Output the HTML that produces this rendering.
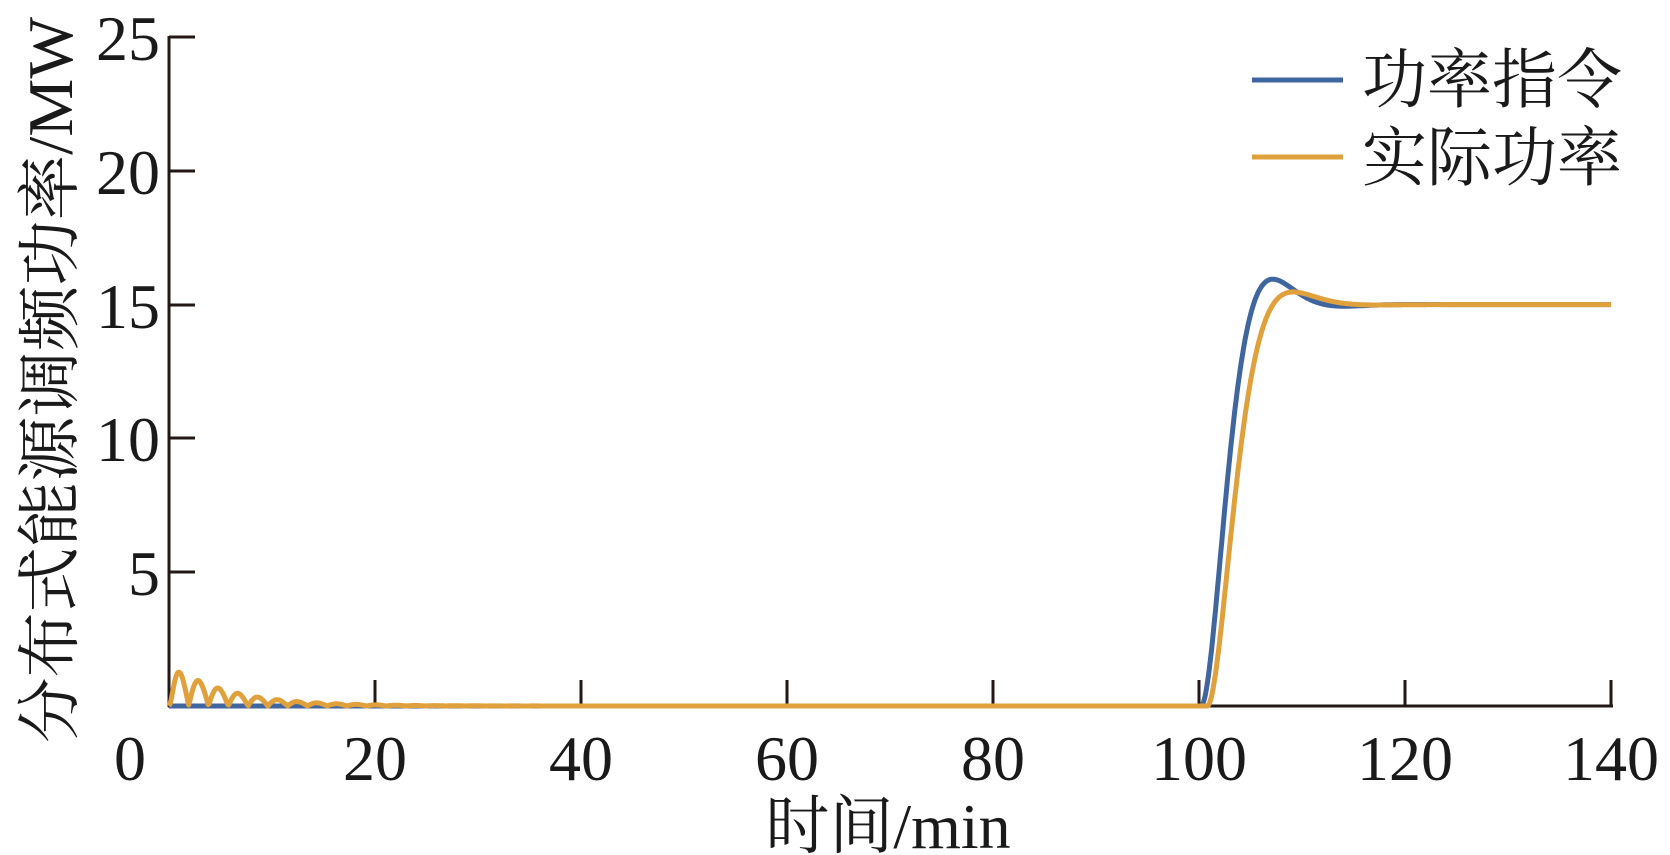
<!DOCTYPE html>
<html><head><meta charset="utf-8"><style>
html,body{margin:0;padding:0;background:#fff;}
svg{display:block;}
text{font-family:"Liberation Serif","Noto Serif CJK SC",serif;fill:#1a1a1a;}
</style></head><body>
<svg id="s" width="1670" height="855" viewBox="0 0 1670 855" xmlns="http://www.w3.org/2000/svg">
<g stroke="#231815" stroke-width="3" fill="none">
<line x1="169" y1="36" x2="169" y2="707"/>
<line x1="168" y1="706" x2="1613" y2="706"/>
<line x1="169" y1="37" x2="195" y2="37"/>
<line x1="169" y1="171" x2="195" y2="171"/>
<line x1="169" y1="305" x2="195" y2="305"/>
<line x1="169" y1="438" x2="195" y2="438"/>
<line x1="169" y1="572" x2="195" y2="572"/>
<line x1="375" y1="706" x2="375" y2="680"/>
<line x1="581" y1="706" x2="581" y2="680"/>
<line x1="787" y1="706" x2="787" y2="680"/>
<line x1="993" y1="706" x2="993" y2="680"/>
<line x1="1199" y1="706" x2="1199" y2="680"/>
<line x1="1405" y1="706" x2="1405" y2="680"/>
<line x1="1611" y1="706" x2="1611" y2="680"/>
</g>
<g font-size="64" text-anchor="end">
<text x="160" y="60">25</text>
<text x="160" y="194">20</text>
<text x="160" y="328">15</text>
<text x="160" y="461">10</text>
<text x="160" y="595">5</text>
</g>
<g font-size="64" text-anchor="middle">
<text x="130" y="780">0</text>
<text x="375" y="780">20</text>
<text x="581" y="780">40</text>
<text x="787" y="780">60</text>
<text x="993" y="780">80</text>
<text x="1199" y="780">100</text>
<text x="1405" y="780">120</text>
<text x="1611" y="780">140</text>
</g>
<text x="888" y="848" font-size="64" text-anchor="middle">时间/min</text>
<text transform="translate(72,380) rotate(-90)" font-size="64" text-anchor="middle" textLength="726" lengthAdjust="spacingAndGlyphs">分布式能源调频功率/MW</text>
<line x1="1252" y1="80" x2="1343" y2="80" stroke="#4066a0" stroke-width="5"/>
<line x1="1252" y1="157" x2="1343" y2="157" stroke="#e0a03c" stroke-width="5"/>
<text x="1362" y="102" font-size="65">功率指令</text>
<text x="1362" y="180" font-size="65">实际功率</text>
<path id="b" fill="none" stroke="#4066a0" stroke-width="5" stroke-linejoin="round"/>
<path id="o" fill="none" stroke="#e0a03c" stroke-width="5" stroke-linejoin="round"/>
</svg>
<script>
function X(t){return 169+t*206/20;}
function Y(v){return 706-v*133.8/5;}
function step(t,d,z,wn,k){var tau=t-d;if(tau<=0)return 0;var wd=wn*Math.sqrt(1-z*z);
return k*(1-Math.exp(-z*wn*tau)*(Math.cos(wd*tau)+z/Math.sqrt(1-z*z)*Math.sin(wd*tau)));}
var b="",o="";
for(var t=0;t<=140;t+=0.1){
 var vb=step(t,100.2,0.66,0.6,15);
 var vo;
 if(t<100){var A=1.6*Math.exp(-t/5.5)*(1-Math.exp(-t*3));vo=A*Math.abs(Math.sin(Math.PI*t/1.92));}
 else vo=step(t,100.8,0.74,0.56,15);
 b+=(t==0?"M":"L")+X(t).toFixed(1)+","+Y(vb).toFixed(1);
 o+=(t==0?"M":"L")+X(t).toFixed(1)+","+Y(vo).toFixed(1);
}
document.getElementById("b").setAttribute("d",b);
document.getElementById("o").setAttribute("d",o);
</script>
</body></html>
